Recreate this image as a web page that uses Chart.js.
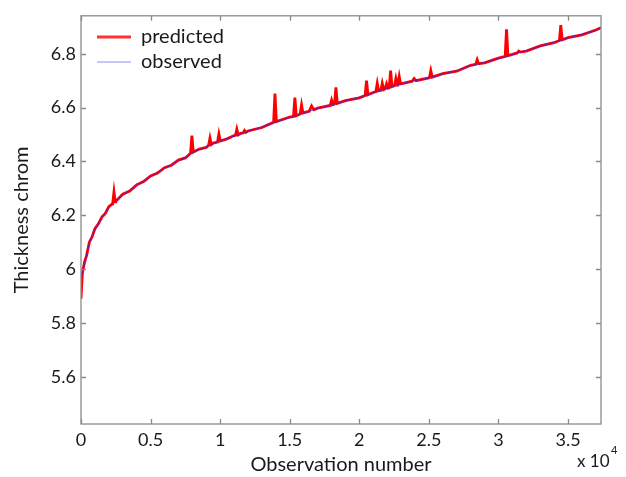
<!DOCTYPE html>
<html lang="en">

<head>
    <meta charset="UTF-8">
    <title>Thickness chrom</title>
    <script src="https://cdn.jsdelivr.net/npm/chart.js"></script>
    <style>
        body { margin: 0; background: #fff; }
        #wrap { width: 626px; height: 477px; }
    </style>
</head>

<body>
    <div id="wrap"><canvas id="myChart" width="626" height="477"></canvas></div>
    <script>
        // observed series (observation number, thickness)
        const obsX = [0, 100, 250, 400, 600, 800, 1000, 1250, 1500, 1750, 2000, 2250, 2500, 3000, 3500, 4000,
            4500, 5000, 5500, 6000, 6500, 7000, 7500, 8000, 8500, 9000, 9500, 10000, 10500, 11000, 11500, 12000,
            13000, 14000, 15000, 16000, 17000, 18000, 19000, 20000, 21000, 22000, 23000, 24000, 25000, 26000,
            27000, 28000, 29000, 30000, 31000, 32000, 33000, 34000, 35000, 36000, 37000, 37370];
        const obsY = [5.965, 5.99, 6.02, 6.055, 6.095, 6.125, 6.145, 6.17, 6.19, 6.21, 6.23, 6.243, 6.255, 6.275, 6.293, 6.31,
            6.327, 6.343, 6.36, 6.374, 6.388, 6.402, 6.415, 6.432, 6.443, 6.455, 6.466, 6.476, 6.486, 6.494, 6.502, 6.511,
            6.528, 6.546, 6.562, 6.58, 6.596, 6.61, 6.624, 6.638, 6.655, 6.672, 6.688, 6.7, 6.71, 6.724,
            6.737, 6.755, 6.768, 6.782, 6.797, 6.812, 6.827, 6.843, 6.858, 6.872, 6.886, 6.895];

        // predicted series, with its spikes
        const predX = [0, 100, 250, 400, 600, 800, 1000, 1250, 1500, 1750, 2000, 2250, 2280, 2370, 2460, 2500,
            3000, 3500, 4000, 4500, 5000, 5500, 6000, 6500, 7000, 7500, 7870, 7970, 8070, 8500, 9000,
            9170, 9270, 9370, 9500, 9810, 9910, 10010, 10500, 11000, 11100, 11200, 11300, 11500, 11650, 11750, 11850,
            12000, 13000, 13840, 13940, 14040, 15000, 15270, 15370, 15470, 15750, 15850, 15950, 16400, 16570, 16740,
            17000, 17910, 18010, 18110, 18220, 18320, 18420, 19000, 20000, 20420, 20520, 20620, 21000,
            21190, 21290, 21390, 21550, 21650, 21750, 21860, 21960, 22060, 22150, 22250, 22350,
            22530, 22630, 22730, 22770, 22870, 22970, 23000, 23800, 23940, 24080, 25000, 25040, 25140, 25240,
            26000, 27000, 28000, 28370, 28470, 28570, 29000, 30000, 30480, 30580, 30680, 31000,
            31350, 31460, 31570, 32000, 33000, 34000, 34380, 34480, 34580, 35000, 36000, 37000, 37370];
        const predY = [5.89, 5.985, 6.025, 6.05, 6.1, 6.12, 6.15, 6.168, 6.193, 6.207, 6.232, 6.242, 6.245, 6.287, 6.25, 6.252,
            6.278, 6.29, 6.313, 6.325, 6.346, 6.357, 6.377, 6.386, 6.405, 6.413, 6.43, 6.496, 6.435, 6.446, 6.452,
            6.46, 6.487, 6.463, 6.468, 6.472, 6.502, 6.476, 6.484, 6.496, 6.497, 6.52, 6.499, 6.505, 6.506, 6.515, 6.508,
            6.513, 6.526, 6.545, 6.652, 6.548, 6.565, 6.567, 6.637, 6.57, 6.576, 6.61, 6.58, 6.586, 6.606, 6.592,
            6.598, 6.608, 6.628, 6.611, 6.613, 6.675, 6.616, 6.626, 6.636, 6.645, 6.7, 6.648, 6.656,
            6.659, 6.69, 6.662, 6.664, 6.69, 6.667, 6.67, 6.688, 6.672, 6.674, 6.737, 6.678,
            6.681, 6.708, 6.684, 6.685, 6.716, 6.688, 6.688, 6.698, 6.708, 6.7, 6.71, 6.711, 6.737, 6.713,
            6.726, 6.735, 6.757, 6.761, 6.778, 6.763, 6.766, 6.784, 6.79, 6.891, 6.793, 6.798,
            6.803, 6.81, 6.806, 6.81, 6.829, 6.841, 6.849, 6.906, 6.852, 6.86, 6.87, 6.888, 6.897];

        const xTicks = [0, 5000, 10000, 15000, 20000, 25000, 30000, 35000];
        const xTickLabels = ['0', '0.5', '1', '1.5', '2', '2.5', '3', '3.5'];
        const yTicks = [5.6, 5.8, 6, 6.2, 6.4, 6.6, 6.8];
        const yTickLabels = ['5.6', '5.8', '6', '6.2', '6.4', '6.6', '6.8'];
        const seriesNames = ['predicted', 'observed'];

        const FONT = 'Lato, "Open Sans", sans-serif';
        const TEXT = '#1a1a1a';
        const FRAME = '#8a8a8a';

        // box, inward ticks, legend and the x 10^4 note
        const decor = {
            id: 'decor',
            afterDraw(chart) {
                const ctx = chart.ctx;
                const a = chart.chartArea;
                const xs = chart.scales.x, ys = chart.scales.y;
                ctx.save();
                ctx.strokeStyle = FRAME;
                ctx.lineWidth = 1.3;
                ctx.strokeRect(a.left, a.top, a.right - a.left, a.bottom - a.top);
                ctx.beginPath();
                xTicks.forEach(v => {
                    const p = Math.round(xs.getPixelForValue(v)) + 0.5;
                    ctx.moveTo(p, a.bottom); ctx.lineTo(p, a.bottom - 5);
                    ctx.moveTo(p, a.top); ctx.lineTo(p, a.top + 5);
                });
                yTicks.forEach(v => {
                    const p = Math.round(ys.getPixelForValue(v)) + 0.5;
                    ctx.moveTo(a.left, p); ctx.lineTo(a.left + 5, p);
                    ctx.moveTo(a.right, p); ctx.lineTo(a.right - 5, p);
                });
                ctx.stroke();

                // legend
                const ds = chart.data.datasets;
                const swatch = ['#ff3030', '#8c8cff'];
                ctx.font = '20px ' + FONT;
                ctx.textBaseline = 'alphabetic';
                ctx.fillStyle = TEXT;
                [37, 62].forEach((y, i) => {
                    ctx.strokeStyle = swatch[i];
                    ctx.lineWidth = i === 0 ? 3 : 1;
                    ctx.beginPath();
                    ctx.moveTo(97, y); ctx.lineTo(131, y);
                    ctx.stroke();
                    ctx.fillText(ds[i].label, 141, y + 6);
                });

                ctx.font = '17px ' + FONT;
                ctx.fillText('x 10', 577, 467);
                const w = ctx.measureText('x 10').width;
                ctx.font = '11px ' + FONT;
                ctx.fillText('4', 577 + w + 1.5, 454);
                ctx.restore();
            }
        };

        function createChart() {
            const ctx = document.getElementById('myChart').getContext('2d');
            new Chart(ctx, {
                type: 'line',
                data: {
                    datasets: [{
                        label: seriesNames[0],
                        data: predX.map((x, i) => ({ x: x, y: predY[i] })),
                        borderColor: '#ff0000',
                        borderWidth: 2.8,
                        pointRadius: 0,
                        order: 1
                    }, {
                        label: seriesNames[1],
                        data: obsX.map((x, i) => ({ x: x, y: obsY[i] })),
                        borderColor: 'rgba(40, 40, 255, 0.7)',
                        borderWidth: 1,
                        pointRadius: 0,
                        order: 0
                    }]
                },
                options: {
                    responsive: false,
                    animation: false,
                    layout: { padding: { top: 9, right: 25, left: 0, bottom: 0 } },
                    plugins: { legend: { display: false }, tooltip: { enabled: false } },
                    scales: {
                        x: {
                            type: 'linear',
                            min: 0,
                            max: 37370,
                            afterBuildTicks: s => { s.ticks = xTicks.map(v => ({ value: v })); },
                            afterFit: s => { s.height = 53; },
                            grid: { display: false, drawTicks: false },
                            border: { display: false },
                            ticks: {
                                padding: 5,
                                color: TEXT,
                                font: { family: FONT, size: 18 },
                                maxRotation: 0,
                                callback: v => xTickLabels[xTicks.indexOf(v)]
                            },
                            title: {
                                display: true,
                                text: 'Observation number',
                                color: TEXT,
                                font: { family: FONT, size: 20 },
                                padding: { bottom: 0 }
                            }
                        },
                        y: {
                            min: 5.4246,
                            max: 6.941,
                            afterBuildTicks: s => { s.ticks = yTicks.map(v => ({ value: v })); },
                            afterFit: s => { s.width = 81; },
                            grid: { display: false, drawTicks: false },
                            border: { display: false },
                            ticks: {
                                padding: 5,
                                color: TEXT,
                                font: { family: FONT, size: 18 },
                                callback: v => yTickLabels[yTicks.indexOf(v)]
                            },
                            title: {
                                display: true,
                                text: 'Thickness chrom',
                                color: TEXT,
                                font: { family: FONT, size: 20 },
                                padding: { top: 10 }
                            }
                        }
                    }
                },
                plugins: [decor]
            });
        }

        document.addEventListener('DOMContentLoaded', createChart);
    </script>
</body>

</html>
